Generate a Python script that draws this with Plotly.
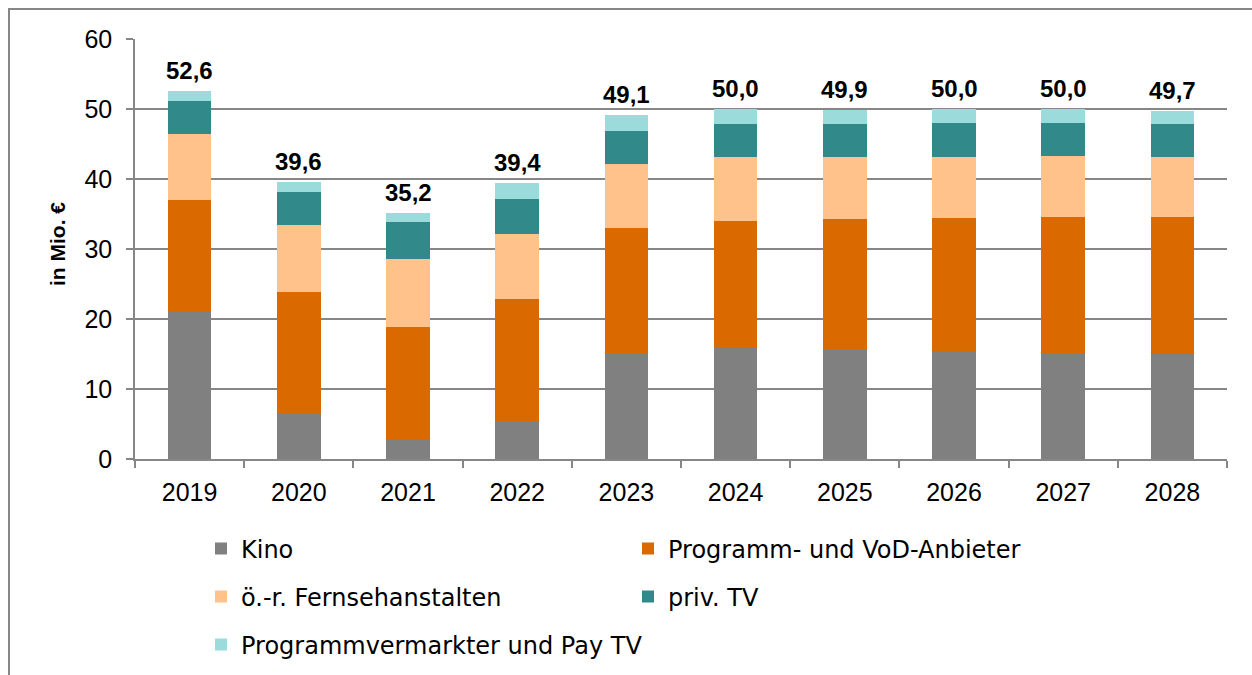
import plotly.graph_objects as go

years = ["2019", "2020", "2021", "2022", "2023", "2024", "2025", "2026", "2027", "2028"]

kino = [21.0, 6.5, 2.7, 5.5, 15.2, 15.9, 15.7, 15.4, 15.2, 15.0]
vod = [16.0, 17.4, 16.2, 17.4, 17.8, 18.1, 18.6, 19.0, 19.4, 19.6]
oer = [9.4, 9.5, 9.7, 9.3, 9.2, 9.1, 8.9, 8.8, 8.7, 8.5]
priv_tv = [4.8, 4.8, 5.2, 5.0, 4.7, 4.8, 4.7, 4.8, 4.7, 4.7]
pay_tv = [1.4, 1.4, 1.4, 2.2, 2.2, 2.1, 2.0, 2.0, 2.0, 1.9]

series = [
    ("Kino", kino, "#808080", "legend"),
    ("Programm- und VoD-Anbieter", vod, "#DA6A00", "legend"),
    ("ö.-r. Fernsehanstalten", oer, "#FFC28A", "legend2"),
    ("priv. TV", priv_tv, "#318989", "legend2"),
    ("Programmvermarkter und Pay TV", pay_tv, "#9BDBDB", "legend3"),
]

totals = [round(sum(v), 1) for v in zip(kino, vod, oer, priv_tv, pay_tv)]

# plot area in pixels
W, H = 1252, 675
L, R, T, B = 135, 1227, 39, 459
pw, ph = R - L, B - T


def px_x(x):
    return (x - L) / pw


def px_y(y):
    return (B - y) / ph


fig = go.Figure()
for name, vals, color, lg in series:
    fig.add_trace(go.Bar(
        x=years, y=vals, name=name, marker=dict(color=color, line=dict(width=0)),
        legend=lg, hoverinfo="skip",
    ))

# total labels above each stack (x given as category index)
annotations = [
    dict(
        x=i, y=t, xref="x", yref="y", text=f"<b>{t:.1f}</b>".replace(".", ","),
        showarrow=False, xanchor="center", yanchor="bottom", yshift=5,
        font=dict(family="Liberation Sans", size=24, color="#000000"),
    )
    for i, t in enumerate(totals)
]
annotations.append(dict(
    text="<b>in Mio. €</b>", xref="paper", yref="paper",
    x=px_x(57), y=px_y(244), xanchor="center", yanchor="middle", textangle=-90,
    showarrow=False, font=dict(family="Liberation Sans", size=21, color="#000000"),
))

legend_font = dict(family="DejaVu Sans", size=24, color="#000000")


def legend_row(y_px, entrywidth):
    return dict(
        orientation="h", xanchor="left", yanchor="middle", font=legend_font,
        x=px_x(201), y=px_y(y_px),
        entrywidth=entrywidth, entrywidthmode="pixels", bgcolor="rgba(0,0,0,0)",
        itemclick=False, itemdoubleclick=False, traceorder="normal",
    )


tick_font = dict(family="Liberation Sans", size=25, color="#000000")

fig.update_layout(
    width=W, height=H,
    margin=dict(l=L, r=W - R, t=T, b=H - B, pad=0, autoexpand=False),
    paper_bgcolor="#FFFFFF", plot_bgcolor="#FFFFFF",
    barmode="stack", bargap=0.6,
    showlegend=True,
    legend=legend_row(549, 382),
    legend2=legend_row(597, 382),
    legend3=legend_row(645, 520),
    xaxis=dict(
        type="category", categoryorder="array", categoryarray=years,
        range=[-0.5, len(years) - 0.5],
        showgrid=False, showline=True, linecolor="#878787", linewidth=1.5,
        ticks="outside", tickson="boundaries", ticklen=7, tickcolor="#878787", tickwidth=1.5,
        tickfont=tick_font, ticklabelstandoff=10,
        fixedrange=True,
    ),
    yaxis=dict(
        range=[0, 60], dtick=10, showgrid=True, gridcolor="#878787", gridwidth=1.5,
        showline=True, linecolor="#878787", linewidth=1.5,
        ticks="outside", ticklen=7, tickcolor="#878787", tickwidth=1.5,
        tickfont=tick_font, ticklabelstandoff=9,
        zeroline=False, fixedrange=True,
    ),
    annotations=annotations,
    shapes=[dict(
        type="rect", xref="paper", yref="paper",
        x0=px_x(9), x1=px_x(1270), y0=px_y(9), y1=px_y(700),
        line=dict(color="#878787", width=2), fillcolor="rgba(0,0,0,0)", layer="below",
    )],
)

fig.write_html("out.html", config={"displayModeBar": False})
